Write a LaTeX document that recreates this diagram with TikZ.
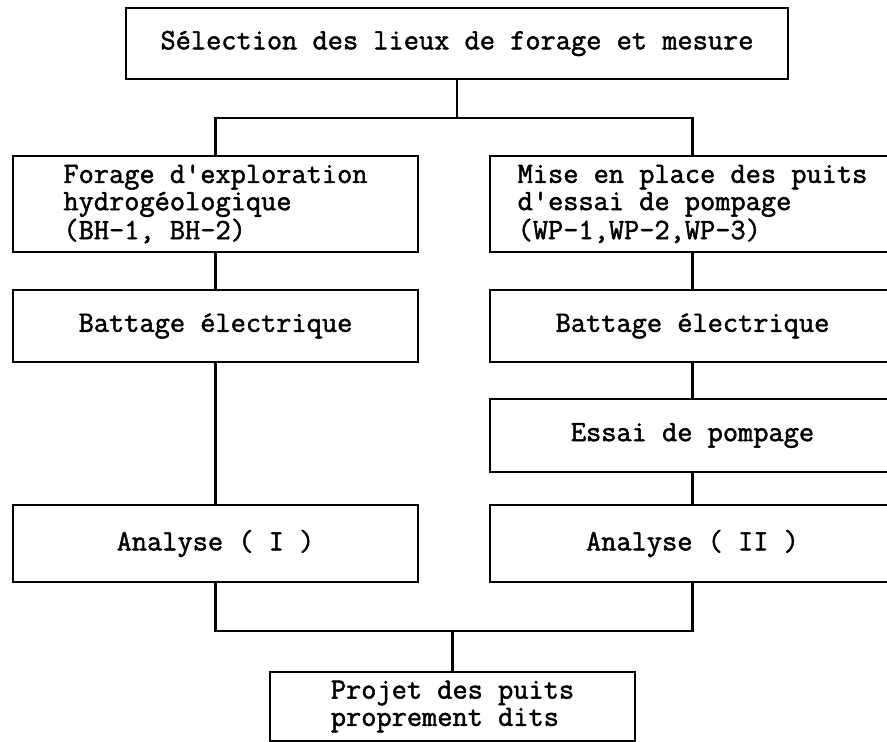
\documentclass[tikz,border=0pt]{standalone}
\usepackage{fontspec}
\newfontfamily\twfont[FakeBold=1.6]{Latin Modern Mono}
\begin{document}
\begin{tikzpicture}[box/.style={draw,line width=1pt,inner sep=0pt,align=left,
        font=\twfont\fontsize{16.8}{15.5}\selectfont},
    wire/.style={line width=1.2pt}]
        \useasboundingbox (0,0) rectangle (17.74,-14.84);
        %% Selection
        \node[box,minimum width=13.24cm,minimum height=1.42cm] (S) at (9.14,-0.87) {S\'election des lieux de forage et mesure};
        %% Left column
        \node[box,minimum width=8.1cm,minimum height=1.92cm] (F) at (4.31,-4.08) {Forage d'exploration\\hydrog\'eologique\\(BH-1, BH-2)};
        \node[box,minimum width=8.1cm,minimum height=1.44cm] (B1) at (4.31,-6.52) {Battage \'electrique};
        \node[box,minimum width=8.1cm,minimum height=1.54cm] (A1) at (4.31,-10.87) {Analyse ( I )};
        %% Right column
        \node[box,minimum width=8.1cm,minimum height=1.92cm] (M) at (13.85,-4.08) {Mise en place des puits\\d'essai de pompage\\(WP-1,WP-2,WP-3)};
        \node[box,minimum width=8.1cm,minimum height=1.44cm] (B2) at (13.85,-6.52) {Battage \'electrique};
        \node[box,minimum width=8.1cm,minimum height=1.46cm] (E) at (13.85,-8.71) {Essai de pompage};
        \node[box,minimum width=8.1cm,minimum height=1.54cm] (A2) at (13.85,-10.87) {Analyse ( II )};
        %% Projet
        \node[box,minimum width=7.3cm,minimum height=1.38cm] (P) at (9.05,-14.13) {Projet des puits\\proprement dits};
        %% Lines
        \draw[wire] (S.south) -- ++(0,-0.76) coordinate (T);
        \draw[wire] (F.north) |- (T) -| (M.north);
        \draw[wire] (F.south) -- (B1.north);
        \draw[wire] (B1.south) -- (A1.north);
        \draw[wire] (M.south) -- (B2.north);
        \draw[wire] (B2.south) -- (E.north);
        \draw[wire] (E.south) -- (A2.north);
        \draw[wire] (P.north) -- ++(0,0.8) coordinate (Q);
        \draw[wire] (A1.south) |- (Q) -| (A2.south);
    \end{tikzpicture}
\end{document}
